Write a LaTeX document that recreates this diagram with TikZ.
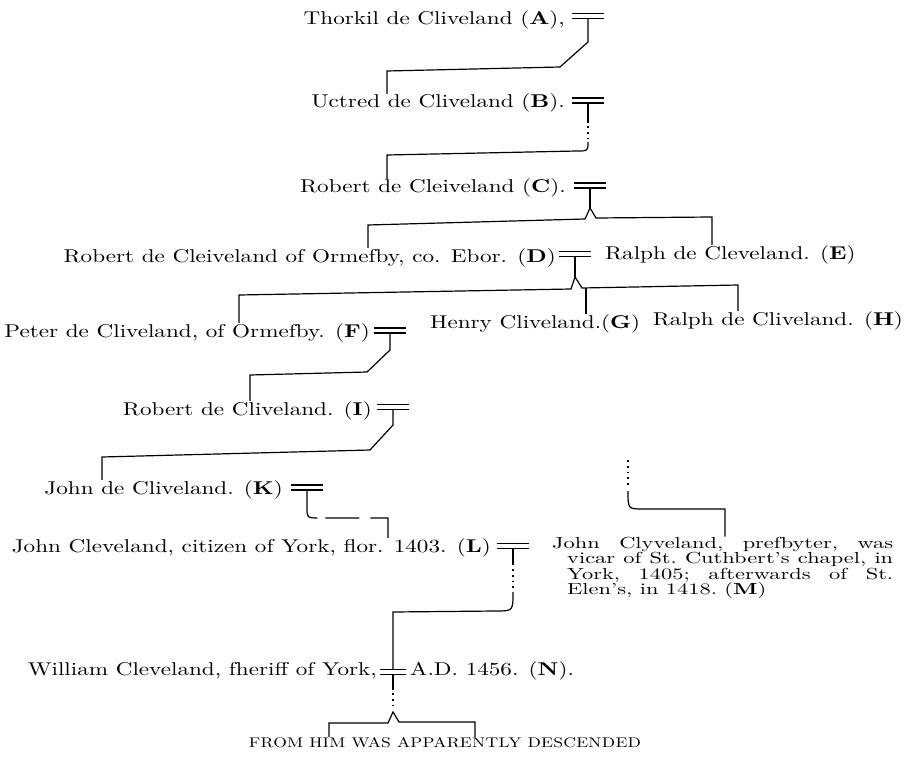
\documentclass[tikz,border=0pt]{standalone}
\usepackage{fontspec}
\setmainfont{lmroman10}[Extension=.otf, UprightFont=*-regular, BoldFont=*-bold, ItalicFont=*-italic, BoldItalicFont=*-bolditalic, FakeStretch=1.25]
\newfontfamily\notefont{lmroman10}[Extension=.otf, UprightFont=*-regular, BoldFont=*-bold, Ligatures=TeX, FakeStretch=1.4]

\begin{document}
\begin{tikzpicture}[x=1pt, y=-1pt,
    person/.style={inner sep=0pt, font=\fontsize{18.5}{20}\selectfont},
    note/.style={inner sep=0pt, text width=326pt, align=justify, font=\notefont\fontsize{16}{15.5}\selectfont\frenchspacing},
    tail/.style={inner sep=0pt, font=\fontsize{14}{15}\selectfont\addfontfeatures{LetterSpace=2}},
    wed/.style={inner sep=0pt, minimum width=32pt, minimum height=4.5pt},
    bar/.style={line width=1.4pt},
    line/.style={line width=1.2pt},
    dots/.style={line width=1.8pt, dash pattern=on 1.8pt off 4pt}]

        \useasboundingbox (0,0) rectangle (912,767);

            \node[person, anchor=base east] (A) at (565,25) {Thorkil de Cliveland (\textbf{A}),};
            \node[wed] (wA) at (588,16) {};
            \node[person, anchor=base east] (B) at (565,108) {Uctred de Cliveland (\textbf{B}).};
            \node[wed] (wB) at (588,100.5) {};
            \node[person, anchor=base east] (C) at (566,193) {Robert de Cleiveland (\textbf{C}).};
            \node[wed] (wC) at (590,185.5) {};
            \node[person, anchor=base east] (D) at (556,262) {Robert de Cleiveland of Ormefby, co. Ebor. (\textbf{D})};
            \node[wed] (wD) at (575,254) {};
            \node[person, anchor=base west] (E) at (605,259) {Ralph de Cleveland. (\textbf{E})};
            \node[person, anchor=base east] (F) at (370,337) {Peter de Cliveland, of Ormefby. (\textbf{F})};
            \node[wed] (wF) at (390,330.5) {};
            \node[person, anchor=base west] (G) at (430,328) {Henry Cliveland.(\textbf{G})};
            \node[person, anchor=base east] (H) at (903,325) {Ralph de Cliveland. (\textbf{H})};
            \node[person, anchor=base east] (I) at (372,415) {Robert de Cliveland. (\textbf{I})};
            \node[wed] (wI) at (393,407) {};
            \node[person, anchor=base east] (K) at (283,494) {John de Cliveland. (\textbf{K})};
            \node[wed] (wK) at (307,487.5) {};
            \node[person, anchor=base east] (L) at (491,552) {John Cleveland, citizen of York, flor. 1403. (\textbf{L})};
            \node[wed] (wL) at (513,546) {};
            \node[note, anchor=base west] (M) at (567,548) {\hspace*{-15pt}John Clyveland, prefbyter, was\linebreak vicar of St.~Cuthbert's chapel, in\linebreak York, 1405; afterwards of St.\linebreak Elen's, in 1418. (\textbf{M})};
            \node[person, anchor=base east] (N) at (377,675) {William Cleveland, fheriff of York,};
            \node[wed, minimum width=26pt] (wN) at (393,672) {};
            \node[person, anchor=base west] (Nd) at (410,675) {A.D. 1456. (\textbf{N}).};
            \node[tail, anchor=base] (desc) at (445,747) {FROM HIM WAS APPARENTLY DESCENDED};
            \coordinate (mtop) at (628,460);

            % marriage bars
            \draw[bar] (wA.north west) -- (wA.north east) (wA.south west) -- (wA.south east);
            \draw[bar] (wB.north west) -- (wB.north east) (wB.south west) -- (wB.south east);
            \draw[bar] (wC.north west) -- (wC.north east) (wC.south west) -- (wC.south east);
            \draw[bar] (wD.north west) -- (wD.north east) (wD.south west) -- (wD.south east);
            \draw[bar] (wF.north west) -- (wF.north east) (wF.south west) -- (wF.south east);
            \draw[bar] (wI.north west) -- (wI.north east) (wI.south west) -- (wI.south east);
            \draw[bar] (wK.north west) -- (wK.north east) (wK.south west) -- (wK.south east);
            \draw[bar] (wL.north west) -- (wL.north east) (wL.south west) -- (wL.south east);
            \draw[bar] (wN.north west) -- (wN.north east) (wN.south west) -- (wN.south east);

            % descent lines
            \draw[line] (wA.south) -- (588,42) -- (560,67) -- (387,71) -- (B.north -| 387,0);
            \draw[line] (wB.south) -- (588,123);
            \draw[dots] (588,126) -- (588,140);
            \draw[line] (588,142) .. controls (588,151) .. (577,151) -- (387,155) -- (C.north -| 387,0);
            \draw[line] (wC.south) -- (590,208);
            \draw[line] (D.north -| 368,0) -- (368,225) -- (585,219) -- (590,208) -- (596,218) -- (712,217) -- (E.north -| 712,0);
            \draw[line] (wD.south) -- (575,277);
            \draw[line] (F.north -| 239,0) -- (239,295) -- (571,289) -- (575,277) -- (582,288) -- (738,285) -- (H.north -| 738,0);
            \draw[line] (586,288) -- (G.north -| 586,0);
            \draw[line] (wF.south) -- (390,350) -- (367,372) -- (250,375) -- (I.north -| 250,0);
            \draw[line] (wI.south) -- (393,425) -- (370,450) -- (102,457) -- (K.north -| 102,0);
            \draw[line, dash pattern=on 36pt off 8pt on 34pt off 11pt on 100pt] (wK.south) -- (307,508) .. controls (307,518) .. (320,518) -- (388,518) -- (L.north -| 388,0);
            \draw[line] (wL.south) -- (513,565);
            \draw[dots] (513,569) -- (513,590);
            \draw[line] (513,592) .. controls (513,611) .. (496,611) -- (393,612) -- (wN.north);
            \draw[line] (wN.south) -- (393,690);
            \draw[dots] (393,693) -- (393,707);
            \draw[line] (desc.north -| 329,0) -- (329,723) -- (388,723) -- (393,712) -- (399,722) -- (475,722) -- (desc.north -| 475,0);
            \draw[dots] (mtop) -- (628,487);
            \draw[line] (628,491) .. controls (628,509) .. (643,509) -- (725,509) -- (M.north -| 725,0);

        \end{tikzpicture}
\end{document}
